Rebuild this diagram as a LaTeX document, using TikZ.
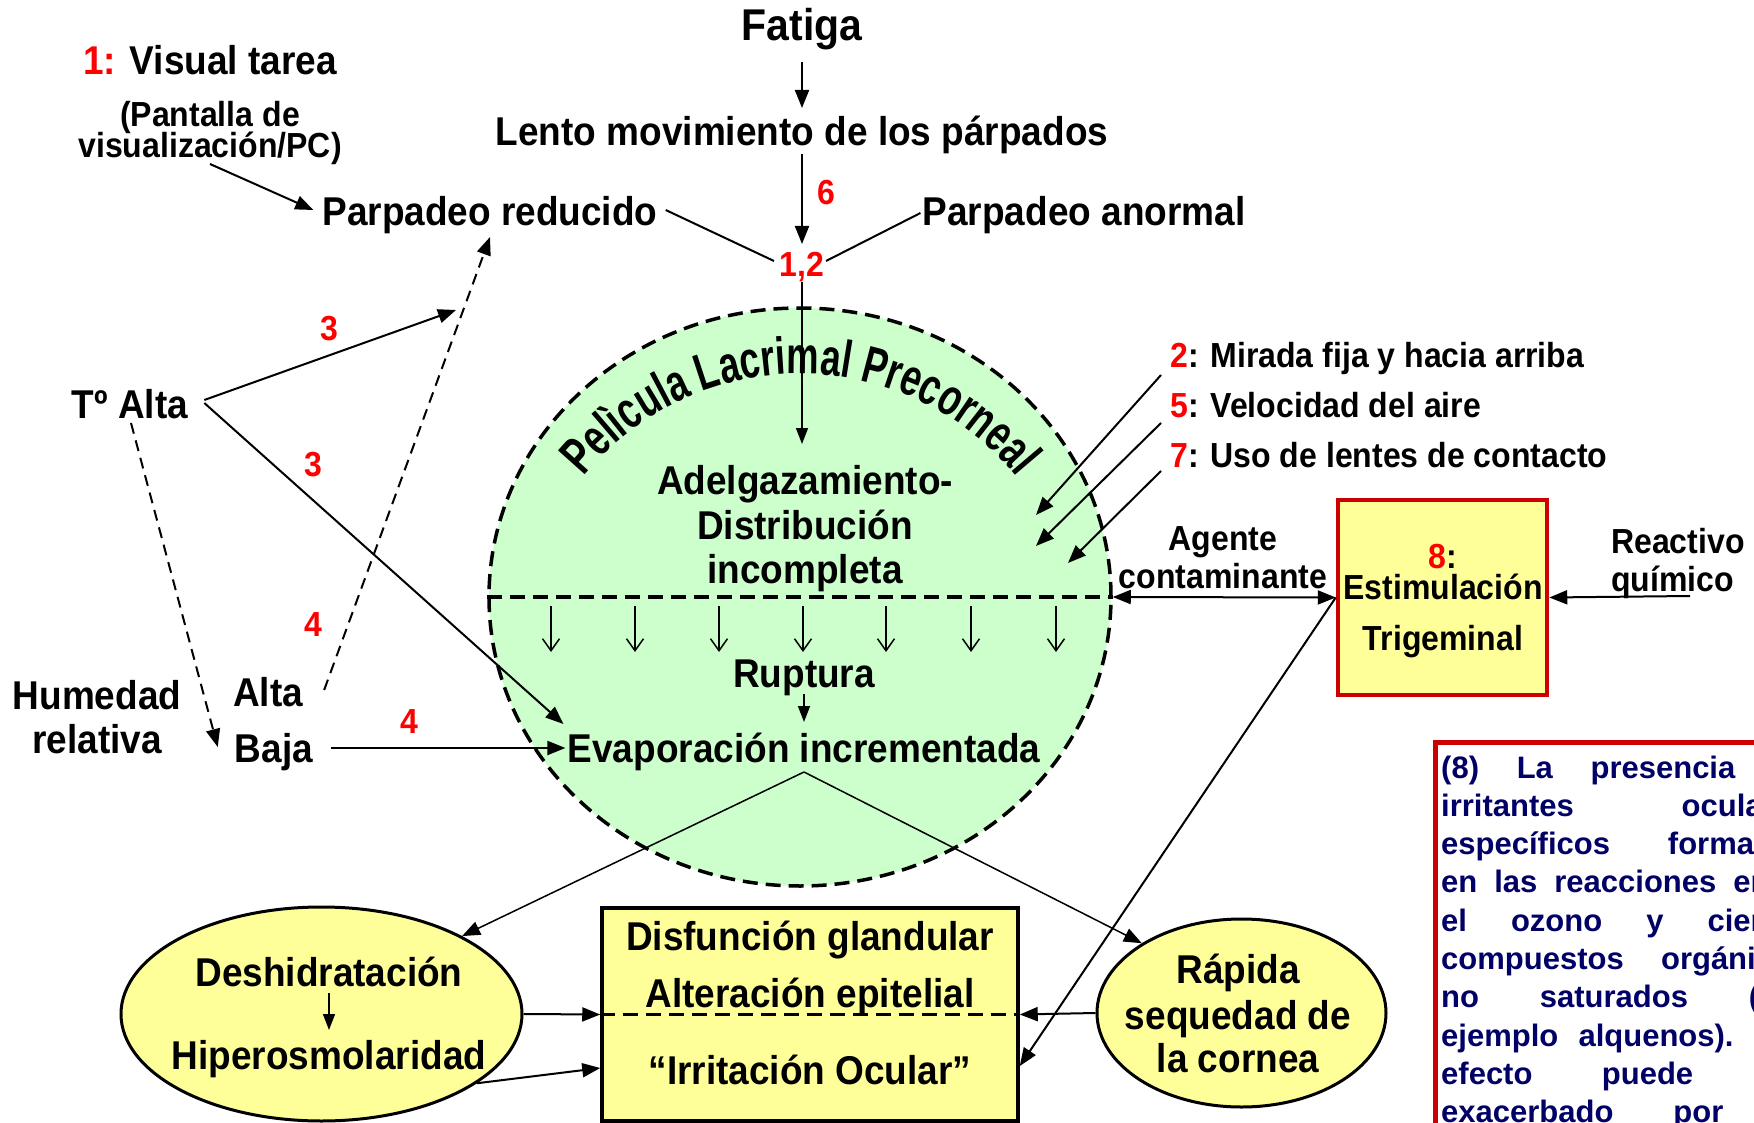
\documentclass[tikz,border=0pt]{standalone}
\usepackage{fontspec}
\setmainfont{Liberation Sans}
\newfontfamily\condfont{Liberation Sans}[FakeStretch=0.92]
\newfontfamily\arcfont{Liberation Sans}[FakeStretch=0.70]
\usetikzlibrary{arrows.meta,decorations.text,shapes.geometric}
\definecolor{numred}{RGB}{255,0,0}
\definecolor{boxred}{RGB}{204,0,0}
\definecolor{filmgreen}{RGB}{204,255,204}
\definecolor{paleyellow}{RGB}{255,255,153}
\definecolor{navytxt}{RGB}{0,0,102}
\begin{document}
\begin{tikzpicture}[x=1pt,y=1pt,
  lbl/.style={font=\condfont\bfseries\fontsize{40.2}{46}\selectfont, inner sep=0pt, anchor=base},
  sm/.style={font=\condfont\bfseries\fontsize{34.8}{40}\selectfont, inner sep=0pt, anchor=base},
  num/.style={font=\condfont\bfseries\fontsize{34.8}{40}\selectfont, inner sep=0pt, anchor=base, text=numred},
  note/.style={font=\bfseries\fontsize{31}{38}\selectfont, inner sep=0pt, anchor=base west, text=navytxt},
  arr/.style={line width=2pt, -{Triangle[length=18pt,width=14pt]}},
  thinarr/.style={line width=1.5pt, -{Triangle[length=16pt,width=12pt]}},
  conn/.style={line width=2pt},
  dasharr/.style={line width=2pt, dash pattern=on 11pt off 7pt, -{Triangle[length=18pt,width=14pt]}},
  openarr/.style={line width=1.5pt, -{Straight Barb[length=12pt,width=17pt]}},
  bigdash/.style={line width=3.5pt, dash pattern=on 15pt off 8pt},
]
\useasboundingbox (0,0) rectangle (1754,-1123);
\clip (0,0) rectangle (1754,-1123);

% ---------- shapes ----------
\node[draw, ellipse, fill=filmgreen, bigdash, minimum width=622pt, minimum height=578pt, inner sep=0pt] (film) at (800,-597) {};
\draw[bigdash] (film.west) -- (film.east);
\path[decorate, decoration={text along path, text align=center,
  text={|\arcfont\bfseries\fontsize{52}{56}\selectfont|Pelìcula Lacrimal Precorneal}}]
  (570.6,-493.4) arc[start angle=145, end angle=35, radius=280];

\node[draw, ellipse, fill=paleyellow, line width=3pt, minimum width=401pt, minimum height=214pt, inner sep=0pt] (deshi) at (321.5,-1014) {};
\node[draw, ellipse, fill=paleyellow, line width=3pt, minimum width=289pt, minimum height=188pt, inner sep=0pt] (rapida) at (1241.5,-1013) {};
\node[draw, rectangle, fill=paleyellow, line width=3.5pt, minimum width=416pt, minimum height=213pt, inner sep=0pt] (irrbox) at (810,-1014.5) {};
\draw[bigdash] (irrbox.west) -- (irrbox.east);
\node[draw=boxred, fill=paleyellow, line width=4.5pt, minimum width=209pt, minimum height=195pt, inner sep=0pt] (trig) at (1442.5,-597.5) {};
\node[draw=boxred, fill=white, line width=4.5pt, minimum width=420pt, minimum height=420pt, inner sep=0pt, anchor=north west] (notebox) at (1433,-740) {};

% ---------- texts ----------
\node[lbl, font=\condfont\bfseries\fontsize{44.5}{50}\selectfont] (fatiga) at (802,-41) {Fatiga};
\node[lbl] (lento) at (802,-146) {Lento movimiento de los párpados};
\node[lbl] (preduc) at (490,-226) {Parpadeo reducido};
\node[lbl] (panorm) at (1084,-226) {Parpadeo anormal};
\node[lbl] (visual) at (210,-75) {\textcolor{numred}{1:} Visual tarea};
\node[sm] (pant1) at (210,-126.5) {(Pantalla de};
\node[sm] (pant2) at (210,-157.5) {visualización/PC)};
\node[num] (six) at (826,-204.5) {6};
\node[num] (onetwo) at (802,-277) {1,2};
\node[lbl] (talta) at (130,-418) {Tº Alta};
\node[num] (three1) at (329,-341) {3};
\node[num] (three2) at (313,-476.5) {3};
\node[num] (four1) at (313,-636.5) {4};
\node[num] (four2) at (409,-733.5) {4};
\node[lbl] (hum1) at (97,-709) {Humedad};
\node[lbl] (hum2) at (97,-753) {relativa};
\node[lbl] (alta) at (268,-706) {Alta};
\node[lbl] (baja) at (274,-762) {Baja};
\node[lbl] (adel) at (805,-494) {Adelgazamiento-};
\node[lbl] (dist) at (805,-539) {Distribución};
\node[lbl] (incomp) at (805,-583) {incompleta};
\node[lbl] (ruptura) at (804,-687) {Ruptura};
\node[lbl] (evap) at (804,-762) {Evaporación incrementada};
\node[lbl] (deshT) at (329,-986) {Deshidratación};
\node[lbl] (hiper) at (329,-1069) {Hiperosmolaridad};
\node[lbl] (disf) at (810,-950) {Disfunción glandular};
\node[lbl] (alter) at (810,-1007) {Alteración epitelial};
\node[lbl] (irrit) at (810,-1084) {“Irritación Ocular”};
\node[lbl] (rap1) at (1238,-983) {Rápida};
\node[lbl] (rap2) at (1238,-1029) {sequedad de};
\node[lbl] (rap3) at (1238,-1072) {la cornea};
\node[sm] (eight) at (1443,-568.5) {\textcolor{numred}{8}:};
\node[sm] (estim) at (1443,-599.5) {Estimulación};
\node[sm] (trigt) at (1443,-650.5) {Trigeminal};
\node[sm] (agente) at (1223,-550.5) {Agente};
\node[sm] (contam) at (1223,-588.5) {contaminante};
\node[sm, anchor=base west] (reac) at (1611,-553.5) {Reactivo};
\node[sm, anchor=base west] (quim) at (1611,-591.5) {químico};
\node[sm, anchor=base west] (mir) at (1170,-367.5) {\textcolor{numred}{2}: Mirada fija y hacia arriba};
\node[sm, anchor=base west] (vel) at (1170,-417.5) {\textcolor{numred}{5}: Velocidad del aire};
\node[sm, anchor=base west] (uso) at (1170,-467.5) {\textcolor{numred}{7}: Uso de lentes de contacto};

% note box text (clipped at the page edge)
\node[note] (n1) at (1441,-778) {\makebox[368pt][s]{(8) La presencia de}};
\node[note] (n2) at (1441,-816.3) {\makebox[368pt][s]{irritantes oculares}};
\node[note] (n3) at (1441,-854.6) {\makebox[368pt][s]{específicos formados}};
\node[note] (n4) at (1441,-892.9) {\makebox[368pt][s]{en las reacciones entre}};
\node[note] (n5) at (1441,-931.2) {\makebox[368pt][s]{el ozono y ciertos}};
\node[note] (n6) at (1441,-969.5) {\makebox[368pt][s]{compuestos orgánicos}};
\node[note] (n7) at (1441,-1007.8) {\makebox[368pt][s]{no saturados (por}};
\node[note] (n8) at (1441,-1046.1) {\makebox[368pt][s]{ejemplo alquenos). El}};
\node[note] (n9) at (1441,-1084.4) {\makebox[368pt][s]{efecto puede ser}};
\node[note] (n10) at (1441,-1122.7) {\makebox[368pt][s]{exacerbado por la}};

% ---------- free-end coordinates ----------
\coordinate (t3end) at (456,-310);
\coordinate (m2end) at (1036,-515);
\coordinate (m5end) at (1036,-546);
\coordinate (m7end) at (1068,-563);

% ---------- connectors ----------
\draw[arr] ([yshift=-21pt]fatiga.base) -- ([yshift=38pt]lento.base);
\draw[arr] ([yshift=-8pt]lento.base) -- ([yshift=33pt]onetwo.base);
\draw[thinarr] ([yshift=-5pt]onetwo.base) -- ([yshift=-167pt]onetwo.base);
\draw[conn] ([xshift=8pt,yshift=16pt]preduc.base east) -- ([xshift=-28pt,yshift=16pt]onetwo.base);
\draw[conn] ([xshift=24pt,yshift=16pt]onetwo.base) -- ([xshift=-2pt,yshift=13pt]panorm.base west);
\draw[arr] ([yshift=-6.5pt]pant2.base) -- ([xshift=-9pt,yshift=16pt]preduc.base west);
\draw[dasharr] ([xshift=21pt,yshift=16pt]alta.base east) -- ([yshift=-11pt]preduc.base);
\draw[arr] ([xshift=16pt,yshift=18pt]talta.base east) -- (t3end);
\draw[arr] ([xshift=16pt,yshift=15pt]talta.base east) -- ([xshift=-4pt,yshift=38pt]evap.base west);
\draw[dasharr] ([xshift=1pt,yshift=-5pt]talta.base) -- ([xshift=-17pt,yshift=15pt]baja.base west);
\draw[arr] ([xshift=18pt,yshift=14pt]baja.base east) -- ([xshift=-2pt,yshift=14pt]evap.base west);
\draw[arr] ([xshift=-9pt,yshift=-7.5pt]mir.base west) -- (m2end);
\draw[arr] ([xshift=-9pt,yshift=-5.5pt]vel.base west) -- (m5end);
\draw[arr] ([xshift=-9pt,yshift=-3.5pt]uso.base west) -- (m7end);
\draw[line width=2pt, {Triangle[length=18pt,width=14pt]}-{Triangle[length=18pt,width=14pt]}] (film.east) -- (trig.west);
\draw[arr] ([xshift=79pt,yshift=-4.5pt]quim.base west) -- (trig.east);
\draw[arr] (trig.west) -- ([yshift=-51.5pt]irrbox.east);
\draw[thinarr] ([yshift=-7pt]ruptura.base) -- ([yshift=40pt]evap.base);
\foreach \x in {551,635,719,803,886,971,1056}
  \draw[openarr] (\x,-606) -- (\x,-652);
\draw[arr, line width=1.5pt] ([yshift=-10pt]evap.base) -- (deshi.29);
\draw[arr, line width=1.5pt] ([yshift=-10pt]evap.base) -- (rapida.145.7);
\draw[arr] (deshi.east) -- (irrbox.west);
\draw[arr] (deshi.-24.3) -- ([yshift=-53.5pt]irrbox.west);
\draw[arr] (rapida.west) -- (irrbox.east);
\draw[thinarr] ([yshift=-7pt]deshT.base) -- ([yshift=39pt]hiper.base);
\end{tikzpicture}
\end{document}
